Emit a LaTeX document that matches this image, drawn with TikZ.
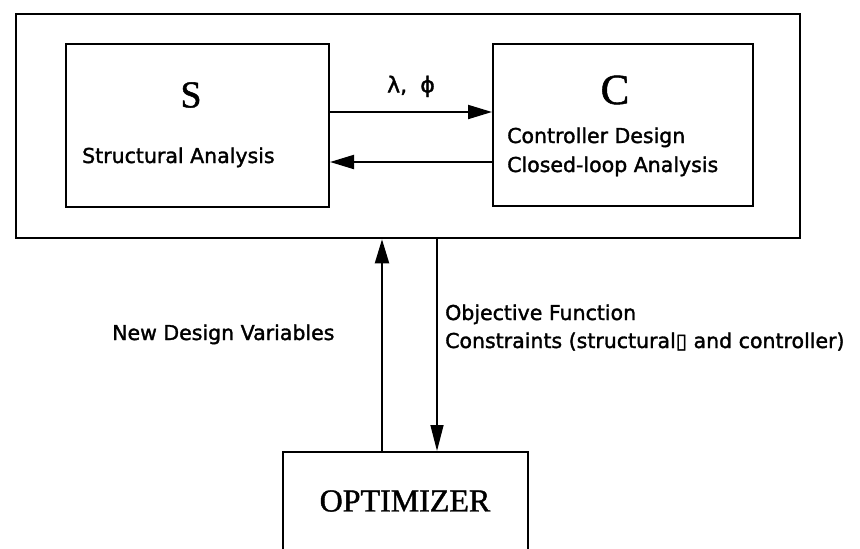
\documentclass[tikz,border=0pt]{standalone}
\usepackage{fontspec}
\setmainfont{Liberation Serif}[RawFeature={embolden=1.2}]
\newfontfamily\labelfont{DejaVu Sans}[RawFeature={embolden=1.6}]
\usetikzlibrary{arrows.meta}

\tikzset{
  block/.style={draw, line width=2pt, inner sep=0pt},
  frame/.style={draw, line width=2.6pt, inner sep=0pt},
  flow/.style={line width=2pt, -{Triangle[length=24pt, width=14pt]}},
  thinflow/.style={line width=1.4pt, -{Triangle[length=26pt, width=13pt]}},
  caption/.style={font=\labelfont\fontsize{20.5}{24}\selectfont, inner sep=0pt},
  bigletter/.style={font=\fontsize{40}{44}\selectfont, inner sep=0pt},
}

\begin{document}
\begin{tikzpicture}[x=1pt, y=-1pt]
  \useasboundingbox (0,0) rectangle (860,549);
  \clip (0,0) rectangle (860,549);

  % system frame holding the structure and controller blocks
  \node[frame, minimum width=784pt, minimum height=224pt] (sys) at (408,126) {};
  \node[block, minimum width=263pt, minimum height=163pt] (S) at (197.5,125.5) {};
  \node[block, minimum width=260pt, minimum height=162pt] (C) at (623,125) {};

  % optimizer block, running off the lower edge
  \node[block, anchor=north, minimum width=245pt, minimum height=160pt] (opt) at (405.5,451) {};

  % block titles and descriptions
  \node[bigletter, font=\fontsize{38}{40}\selectfont] (Sname) at (191,95) {S};
  \node[caption, anchor=base west] (Sdesc) at (82,163) {Structural Analysis};
  \node[bigletter, font=\fontsize{43}{46}\selectfont] (Cname) at (615,90) {C};
  \node[caption, anchor=base west] (Cdesc1) at (507,143) {Controller Design};
  \node[caption, anchor=base west] (Cdesc2) at (507,172) {Closed-loop Analysis};
  \node[inner sep=0pt, font=\fontsize{32}{36}\selectfont] (optname) at (405,501) {OPTIMIZER};

  % exchange between structure and controller
  \draw[flow] ([yshift=13.5pt]S.east) -- ([yshift=13pt]C.west)
    node[midway, above=14pt, caption, font=\labelfont\fontsize{22}{26}\selectfont] (modes) {λ,\hspace{0.6em}ϕ};
  \draw[flow] ([yshift=-37pt]C.west) -- ([yshift=-36.5pt]S.east);

  % optimization loop
  \draw[flow] ([xshift=-23.5pt]opt.north) -- ([xshift=-26pt]sys.south);
  \draw[thinflow] ([xshift=29pt]sys.south) -- ([xshift=31.5pt]opt.north);

  \node[caption, anchor=base west] (newvars) at (112,340) {New Design Variables};
  \node[caption, anchor=base west] (objfun) at (445,320) {Objective Function};
  \node[caption, anchor=base west] (constr) at (445,348) {Constraints (structural▯ and controller)};
\end{tikzpicture}
\end{document}
